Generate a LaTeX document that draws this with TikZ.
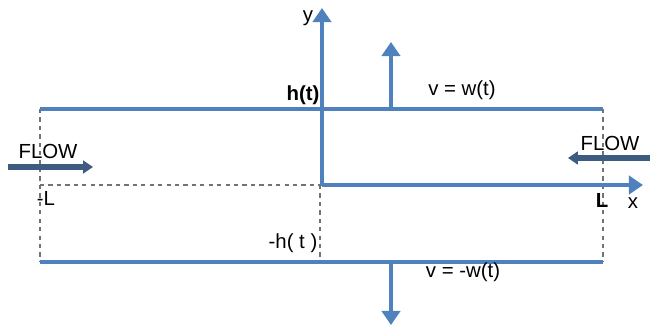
\documentclass[tikz,border=0pt]{standalone}
\usepackage{fontspec}
\setmainfont{Liberation Sans}
\usepackage{tkz-euclide}
\usetikzlibrary{arrows.meta}
\definecolor{wallblue}{RGB}{79,129,189}
\definecolor{flowblue}{RGB}{62,92,128}
\definecolor{guidegray}{RGB}{115,115,115}
\tikzset{
  wall/.style={wallblue, line width=2.2pt},
  guide/.style={guidegray, dashed, line width=1pt},
  flowarrow/.style={flowblue, line width=4.2pt, -{Triangle[length=7pt,width=9pt]}},
  wallarrow/.style={wallblue, line width=2.6pt, -{Triangle[length=10pt,width=13pt]}},
  lbl/.style={font=\fontsize{14.5}{17}\selectfont, inner sep=1pt}
}

\begin{document}
\begin{tikzpicture}[scale=2.5, line join=round]
	\useasboundingbox (0,0) rectangle (6.5,3.28);
	\tkzDefPoints{0.40/2.19/A, 6.03/2.19/B, 6.03/0.66/C, 0.40/0.66/D}
	\tkzDefPoints{3.22/1.43/O, 3.22/3.20/Y, 6.43/1.43/X, 0.40/1.43/E}
	\tkzDefPoints{3.20/1.43/F, 3.20/0.66/G}
	\tkzDefPoints{3.91/2.19/U, 3.91/2.86/U', 3.91/0.66/W, 3.91/0.03/W'}
	\tkzDefPoints{0.08/1.61/P, 0.93/1.61/P', 6.50/1.70/Q, 5.68/1.70/Q'}
	% guides
	\draw[guide] (A) -- (D);
	\draw[guide] (B) -- (C);
	\draw[guide] (E) -- (O);
	\draw[guide] (F) -- (G);
	% walls and axes
	\draw[wall] (A) -- (B);
	\draw[wall] (D) -- (C);
	\draw[wallarrow] (O) -- (Y);
	\draw[wallarrow] (O) -- (X);
	\draw[wallarrow] (U) -- (U');
	\draw[wallarrow] (W) -- (W');
	% flow
	\draw[flowarrow] (P) -- (P');
	\draw[flowarrow] (Q) -- (Q');
	% labels
	\node[lbl] (ylab) at (3.08,3.10) {y};
	\node[lbl] (xlab) at (6.33,1.25) {x};
	\node[lbl] (htop) at (3.03,2.33) {\textbf{h(t)}};
	\node[lbl] (hbot) at (2.93,0.85) {-h( t )};
	\node[lbl] (mL) at (0.46,1.30) {-L};
	\node[lbl] (pL) at (6.02,1.28) {\textbf{L}};
	\node[lbl] (vtop) at (4.62,2.38) {v = w(t)};
	\node[lbl] (vbot) at (4.63,0.56) {v = -w(t)};
	\node[lbl] (flowl) at (0.48,1.77) {FLOW};
	\node[lbl] (flowr) at (6.10,1.85) {FLOW};
\end{tikzpicture}
\end{document}
